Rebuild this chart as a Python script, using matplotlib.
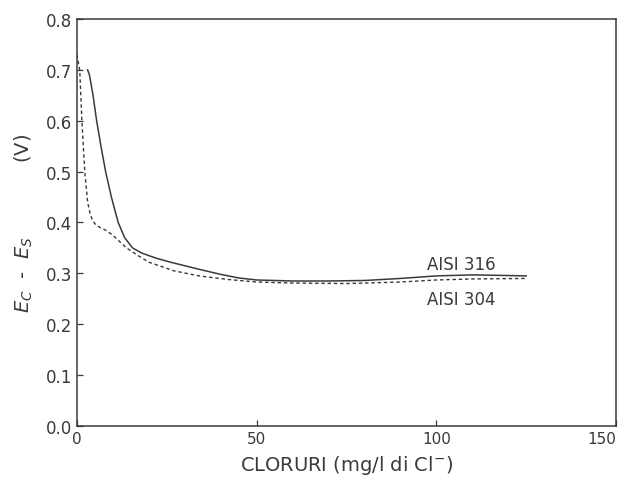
import matplotlib
matplotlib.use("Agg")
import matplotlib.pyplot as plt

# AISI 316 (solid)
x316 = [3, 3.5, 4.5, 5.5, 6.7, 8, 9.6, 11.5, 13.3, 15.5, 18, 22, 26, 30, 34, 40, 45,
        50, 60, 70, 80, 90, 100, 110, 118, 125]
y316 = [0.70, 0.69, 0.65, 0.60, 0.55, 0.50, 0.45, 0.40, 0.37, 0.35, 0.34, 0.33, 0.322,
        0.315, 0.308, 0.298, 0.291, 0.287, 0.285, 0.285, 0.286, 0.290, 0.295, 0.297,
        0.296, 0.295]

# AISI 304 (dashed)
x304 = [0, 0.8, 1.4, 2.2, 3.0, 3.6, 4.3, 5.3, 6.5, 8, 10, 13.8, 17, 20, 27, 34, 42,
        50, 60, 75, 90, 100, 110, 125]
y304 = [0.73, 0.70, 0.60, 0.50, 0.44, 0.42, 0.405, 0.395, 0.39, 0.385, 0.375, 0.35,
        0.335, 0.322, 0.305, 0.295, 0.288, 0.283, 0.281, 0.280, 0.283, 0.287, 0.289,
        0.290]

xticks = [0, 50, 100, 150]
yticks = [0.0, 0.1, 0.2, 0.3, 0.4, 0.5, 0.6, 0.7, 0.8]

plt.rcParams["font.family"] = ["DejaVu Sans"]
plt.rcParams["mathtext.fontset"] = "dejavusans"
ink = "#3a3a3a"

fig = plt.figure(figsize=(6.3, 4.85), dpi=100)
ax = fig.add_axes([0.122, 0.1196, 0.856, 0.8392])

ax.plot(x316, y316, color=ink, lw=1.1, ls="-")
ax.plot(x304, y304, color=ink, lw=1.0, ls=(0, (2.5, 2)))

ax.set_xlim(0, 150)
ax.set_ylim(0, 0.8)
ax.set_xticks(xticks)
ax.set_xticklabels([str(v) for v in xticks])
ax.set_yticks(yticks)
ax.set_yticklabels([f"{v:.1f}" for v in yticks])
ax.tick_params(direction="in", length=4, color=ink, labelcolor=ink, labelsize=12, width=0.9)
ax.tick_params(axis="x", labelsize=11)
for s in ax.spines.values():
    s.set_color(ink)
    s.set_linewidth(1.1)
# keep the last x tick label inside the canvas
ax.get_xticklabels()[-1].set_horizontalalignment("right")
ax.get_xticklabels()[-1].set_x(150)

ax.text(107, 0.318, "AISI 316", ha="center", va="center", fontsize=12, color=ink)
ax.text(107, 0.250, "AISI 304", ha="center", va="center", fontsize=12, color=ink)

ax.set_xlabel("CLORURI (mg/l di Cl$^{-}$)", fontsize=14, color=ink, labelpad=5)
ax.set_ylabel("$E_C$  -  $E_S$            (V)", fontsize=14, color=ink, labelpad=8)

fig.savefig("out.png", dpi=100, facecolor="white")
